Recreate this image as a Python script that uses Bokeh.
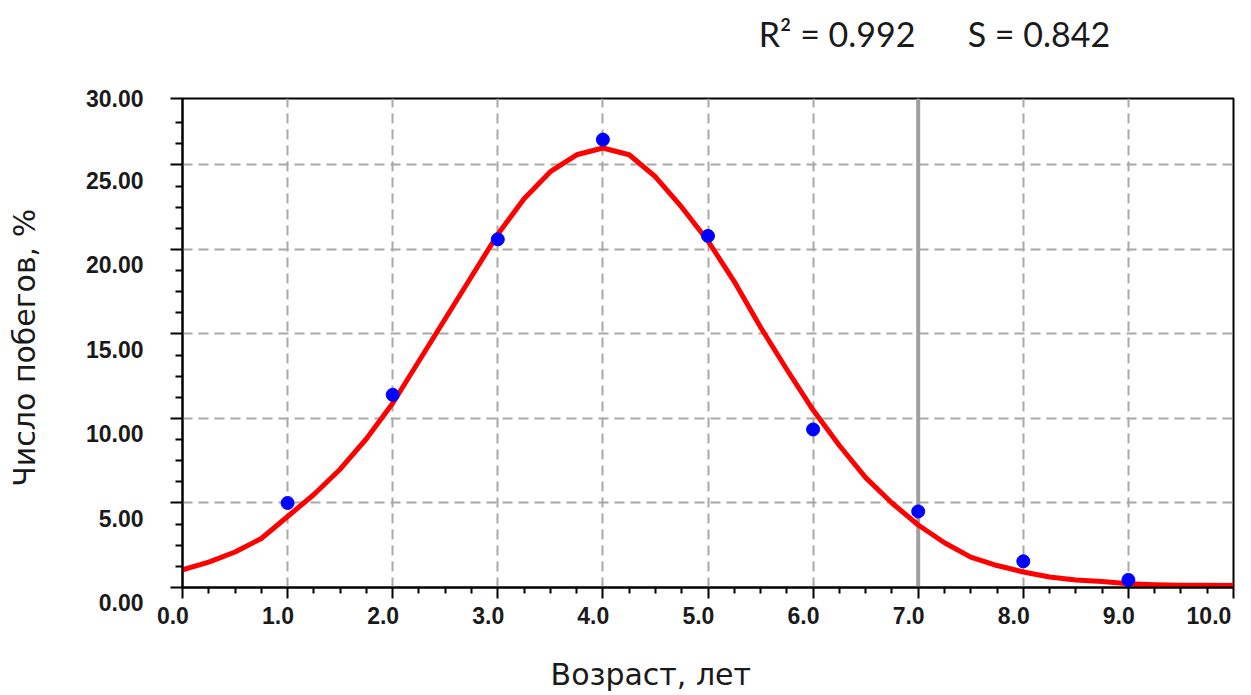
from bokeh.plotting import figure
from bokeh.models import FixedTicker, Span, Range1d, LinearAxis
from bokeh.embed import file_html
from bokeh.resources import INLINE

# ---- data ----
age = [1, 2, 3, 4, 5, 6, 7, 8, 9]
shoots = [5.0, 11.4, 20.6, 26.5, 20.8, 9.35, 4.5, 1.55, 0.45]

fit_x = [0.0, 0.25, 0.5, 0.75, 1.0, 1.25, 1.5, 1.75, 2.0, 2.25, 2.5, 2.75,
         3.0, 3.25, 3.5, 3.75, 4.0, 4.25, 4.5, 4.75, 5.0, 5.25, 5.5, 5.75,
         6.0, 6.25, 6.5, 6.75, 7.0, 7.25, 7.5, 7.75, 8.0, 8.25, 8.5, 8.75,
         9.0, 9.25, 9.5, 9.75, 10.0]
fit_y = [1.05, 1.5, 2.1, 2.9, 4.2, 5.5, 7.0, 8.8, 10.9, 13.4, 15.9, 18.4,
         20.9, 23.0, 24.6, 25.6, 26.0, 25.6, 24.3, 22.5, 20.5, 18.1, 15.4, 12.9,
         10.5, 8.4, 6.5, 5.0, 3.7, 2.65, 1.8, 1.3, 0.92, 0.62, 0.45, 0.35,
         0.22, 0.17, 0.14, 0.13, 0.12]

x_ticks = [0, 1, 2, 3, 4, 5, 6, 7, 8, 9, 10]
x_tick_labels = ["0.0", "1.0", "2.0", "3.0", "4.0", "5.0", "6.0", "7.0", "8.0", "9.0", "10.0"]
y_ticks = [0, 5, 10, 15, 20, 25]
y_tick_labels = ["0.00", "5.00", "10.00", "15.00", "20.00", "25.00"]
y_top = 28.93            # value at the top of the frame
y_top_label = "30.00"    # the source app prints this label at the frame top

x_title = "Возраст, лет"
y_title = "Число побегов, %"
r2_text = "R\u00b2 = 0.992"
s_text = "S = 0.842"
stats_center_x = 7.155   # centre of the statistics line (x units)
marker_age = 7.0

NB = "\u00a0"
ZW = "\u200b"

# ---- figure ----
p = figure(width=1250, height=694, output_backend="svg", toolbar_location=None,
           x_range=Range1d(0, 10), y_range=Range1d(0, y_top),
           min_border_left=182, min_border_right=17,
           min_border_top=98, min_border_bottom=107)
p.background_fill_color = "white"
p.border_fill_color = "white"
p.outline_line_color = "black"
p.outline_line_width = 2
p.outline_line_alpha = 1.0

x_minor = [t + k * 0.25 for t in x_ticks[:-1] for k in (1, 2, 3)]
y_minor = [t + k * 1.25 for t in y_ticks for k in (1, 2, 3)][:-1]
p.xaxis.ticker = FixedTicker(ticks=x_ticks, minor_ticks=x_minor)
p.yaxis.ticker = FixedTicker(ticks=y_ticks + [y_top], minor_ticks=y_minor)

# tick labels: the source app prints them shifted left / down from their ticks
p.xaxis.major_label_overrides = {t: lab + NB * 3 + ZW for t, lab in zip(x_ticks, x_tick_labels)}
y_over = {t: "\n" + lab for t, lab in zip(y_ticks, y_tick_labels)}
y_over[y_top] = y_top_label
p.yaxis.major_label_overrides = y_over

for ax in (p.xaxis[0], p.yaxis[0]):
    ax.axis_line_color = "black"
    ax.axis_line_width = 2
    ax.major_tick_line_color = "black"
    ax.minor_tick_line_color = "black"
    ax.major_tick_line_width = 2
    ax.minor_tick_line_width = 2
    ax.major_tick_in = 0
    ax.minor_tick_in = 0
    ax.major_label_text_font = "Liberation Sans"
    ax.major_label_text_font_style = "bold"
    ax.major_label_text_font_size = "23px"
    ax.major_label_text_color = "#1a1a1a"
    ax.axis_label_text_font = "DejaVu Sans"
    ax.axis_label_text_font_size = "30px"
    ax.axis_label_text_font_style = "normal"
    ax.axis_label_text_color = "#1a1a1a"
p.xaxis.major_tick_out = 11
p.xaxis.minor_tick_out = 6
p.xaxis.major_label_standoff = 4
p.yaxis.major_tick_out = 12
p.yaxis.minor_tick_out = 7
p.yaxis.major_label_standoff = 27
p.yaxis.major_label_text_baseline = "middle"

# axis titles (trailing no-break spaces shift them as in the source app)
p.xaxis.axis_label = x_title + NB * 12 + ZW
p.xaxis.axis_label_standoff = 25
p.yaxis.axis_label = y_title + NB + ZW
p.yaxis.axis_label_standoff = 41

# statistics line above the plot
stats_axis = LinearAxis(ticker=FixedTicker(ticks=[stats_center_x], minor_ticks=[]),
                        major_label_overrides={stats_center_x: r2_text + NB * 6 + s_text},
                        axis_line_color=None, major_tick_line_color=None,
                        minor_tick_line_color=None, major_tick_out=0, minor_tick_out=0,
                        major_tick_in=0, minor_tick_in=0,
                        major_label_standoff=45,
                        major_label_text_font="Lato", major_label_text_font_size="34px",
                        major_label_text_font_style="normal",
                        major_label_text_color="#1a1a1a")
p.add_layout(stats_axis, "above")

p.ygrid.ticker = FixedTicker(ticks=y_ticks)
for g in (p.xgrid[0], p.ygrid[0]):
    g.grid_line_color = "#a8a8a8"
    g.grid_line_width = 2
    g.grid_line_dash = "10 6"

p.add_layout(Span(location=marker_age, dimension="height", line_color="#a0a0a0",
                  line_width=4, level="underlay"))

p.line(fit_x, fit_y, line_color="#ff0000", line_width=5, line_join="round")
p.scatter(age, shoots, size=13, fill_color="#0000ff", line_color="#0000ff", marker="circle")

open("out.html", "w").write(file_html(p, INLINE))
